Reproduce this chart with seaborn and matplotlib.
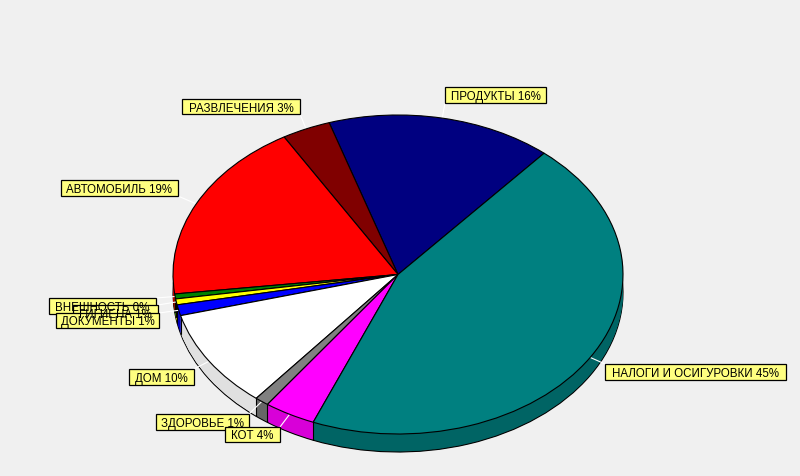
import numpy as np
import matplotlib
matplotlib.use("Agg")
import matplotlib.pyplot as plt
import seaborn as sns

categories = ["ПРОДУКТЫ", "РАЗВЛЕЧЕНИЯ", "АВТОМОБИЛЬ", "ВНЕШНОСТЬ", "ГИГИЕНА",
              "ДОКУМЕНТЫ", "ДОМ", "ЗДОРОВЬЕ", "КОТ", "НАЛОГИ И ОСИГУРОВКИ"]
shares = [16.2, 3.5, 18.5, 0.5, 0.6, 1.1, 10.0, 1.0, 3.7, 44.9]
shown_percent = [16, 3, 19, 0, 1, 1, 10, 1, 4, 45]
top_colors = ["#000080", "#800000", "#FF0000", "#008000", "#FFFF00",
              "#0000FF", "#FFFFFF", "#808080", "#FF00FF", "#008080"]
rim_colors = ["#000060", "#600000", "#C00000", "#006000", "#C0C000",
              "#0000C0", "#E0E0E0", "#666666", "#D800D8", "#006464"]

# layout, in reference pixels
W, H = 800, 477
CX, CY, RX, RY = 398, 275.5, 225, 159.5
DEPTH_PX = 18
START = 49.5
label_boxes = [(445, 546, 88, 104), (182, 300, 100, 115), (61, 178, 181, 197),
               (49, 156, 299, 315), (73, 158, 306, 321), (56, 159, 314, 329),
               (129, 194, 370, 386), (156, 249, 415, 431), (225, 280, 428, 443),
               (605, 786, 365, 381)]

sns.set_theme(style="white")
plt.rcParams["font.family"] = ["Liberation Sans", "DejaVu Sans"]
BG = "#F0F0F0"

fig = plt.figure(figsize=(W / 100, H / 100), dpi=100, facecolor=BG)
ax = fig.add_axes([0, 0, 1, 1])
ax.set_facecolor(BG)

depth = DEPTH_PX / RY
edge = {"edgecolor": "black", "linewidth": 0.8}
# lowest disc with outline, then rim body, then the top disc
ax.pie(shares, colors=rim_colors, startangle=START, counterclock=True,
       center=(0, -depth), radius=1, wedgeprops=edge)
for d in np.arange(DEPTH_PX - 1, 0, -1):
    ax.pie(shares, colors=rim_colors, startangle=START, center=(0, -d / RY),
           radius=1, wedgeprops={"linewidth": 0})

# rim dividers at slice boundaries on the front side
bounds = START + np.cumsum([0] + shares) * 3.6
for b in bounds:
    c, s = np.cos(np.radians(b)), np.sin(np.radians(b))
    if s < 0:
        ax.plot([c, c], [s, s - depth], color="black", lw=0.8, zorder=1.5)

# white leader lines from each slice's rim to its label box, under the top disc
mids = START + (np.cumsum([0] + shares)[:-1] + np.array(shares) / 2) * 3.6
for m, (x0, x1, y0, y1) in zip(mids, label_boxes):
    c, s = np.cos(np.radians(m)), np.sin(np.radians(m))
    px, py = CX + RX * c, CY - RY * s
    bx = (np.clip(px, x0, x1) - CX) / RX
    by = (CY - np.clip(py, y0, y1)) / RY
    ax.plot([c, bx], [s, by], color="white", lw=0.8, zorder=1.7)

ax.pie(shares, colors=top_colors, startangle=START, center=(0, 0), radius=1,
       wedgeprops={**edge, "zorder": 2})

ax.set_aspect("auto")
ax.set_xlim(-CX / RX, (W - CX) / RX)
ax.set_ylim((CY - H) / RY, CY / RY)
ax.set_axis_off()

for name, pct, (x0, x1, y0, y1) in zip(categories, shown_percent, label_boxes):
    fig.patches.append(plt.Rectangle((x0 / W, 1 - y1 / H), (x1 - x0) / W, (y1 - y0) / H,
                                     transform=fig.transFigure, facecolor="#FFFF80",
                                     edgecolor="black", linewidth=0.9, zorder=5))
    fig.text((x0 + x1) / 2 / W, 1 - ((y0 + y1) / 2 + 1) / H, f"{name} {pct}%",
             ha="center", va="center", fontsize=8.3, color="black", zorder=6)

fig.savefig("out.png", dpi=100, facecolor=BG)
